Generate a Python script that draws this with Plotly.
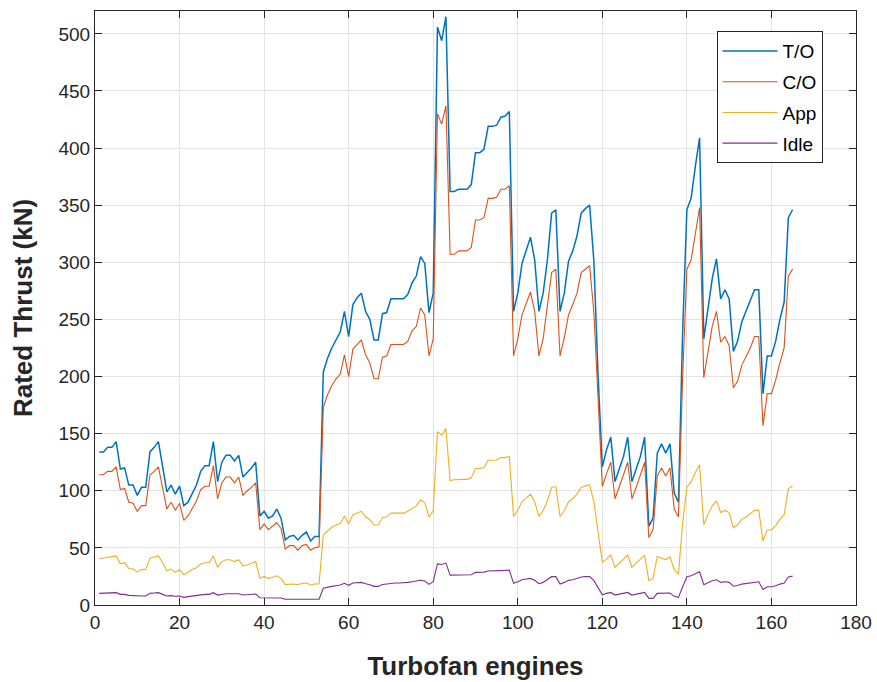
import plotly.graph_objects as go

engines = list(range(1, 166))

takeoff = [134,134,138,138,143,119,120,105,105,96,103,103,
           134,138,143,119,99,105,97,104,87,90,98,105,117,122,122,
           143,108,125,131,131,126,131,112,116,120,125,
           78,82,76,78,84,76,57,60,61,57,61,64,56,60,60,
           204,216,225,232,239,257,235,263,269,273,257,250,232,232,255,256,268,268,268,268,272,282,288,305,299,256,273,
           506,494,515,362,362,364,364,364,368,396,396,399,419,419,420,427,428,432,
           257,273,299,311,322,302,257,273,302,343,346,257,273,301,310,323,343,347,350,301,200,
           121,136,147,108,119,130,147,108,119,130,147,69,76,133,141,133,141,98,90,
           240,
           346,356,384,409,233,260,286,303,268,
           276,268,222,231,248,257,267,276,276,185,218,218,231,250,265,339,346]

climbout = [114,114,117,117,121,101,102,90,89,82,87,87,
            114,117,121,101,84,90,83,89,74,78,85,91,101,104,104,
            122,93,107,112,112,107,112,96,100,103,107,
            66,71,66,69,72,67,49,52,52,48,52,53,48,50,51,
            173,184,192,198,202,219,200,224,228,232,219,212,198,198,217,218,228,228,228,228,231,240,244,260,254,218,233,
            430,421,437,307,307,310,310,310,313,337,337,339,356,356,357,364,364,367,
            218,233,254,265,274,257,218,233,262,291,294,218,234,254,263,273,291,294,297,256,186,
            104,115,125,93,103,114,125,93,103,114,125,59,66,113,120,113,120,84,77,
            200,
            294,302,326,348,199,221,244,257,230,
            235,227,190,196,210,218,225,235,235,157,185,185,197,212,225,288,294]

approach = [40.5,41,42,42,43,36,37,32,31.5,29,31,31,
            41,42,43,37,30,31.5,28.5,31,26.5,28.5,31,32.6,36,37,37,
            43,33,38,39.6,39.6,38,39.6,34,35,36.7,38,
            23.6,24.8,23.3,24,25.6,23.3,17.8,18.4,18.4,17.8,19,19.2,17.5,18.4,18.4,
            61.5,65,68,70,71.4,78,70.8,79,80.4,82,77,74.6,70,70,76.6,77,80.4,80.4,80.4,80.4,82,84.8,86.8,92,89.7,77,82.5,
            151.8,148.6,154.4,109,109.6,110,110,110,111.3,119.5,119.5,120.3,126.7,126.7,127,129,129,130,
            77.5,83,90.6,93.5,97,90.3,77.5,82.5,91.2,102.9,103.7,77.5,82.5,90.3,93.2,97,102.9,104.3,105.2,90.3,63.5,
            37.3,40.2,43.7,33,36.4,40.2,43.7,33,36.4,40.2,43.7,21.3,23.3,42.5,41,39.6,42.2,31,27,
            72,
            103.4,107.8,116,122.7,70.2,79.5,86.8,91.2,81,
            82.8,80.9,67.6,70.2,75,77,79.7,82.8,82.8,56.2,65.7,65.7,69.5,75,79,101.7,104.4]

idle = [10.2,10.2,10.5,10.5,10.8,9.3,9.3,8.4,8.2,7.6,7.9,7.9,
        10.2,10.5,10.8,9.3,7.9,8.2,7.6,7.9,6.7,7.3,7.9,8.4,9,9.3,9.3,
        10.8,8.7,9.6,9.9,9.9,9.6,9.9,8.7,9,9.3,9.6,
        6.4,6.4,6.1,6.4,6.7,6.1,5,5,5,4.7,5,5,4.7,5,5,
        14.6,15.7,16.3,16.9,17.5,19,17.2,19.2,19.8,19.8,18.6,17.8,16.3,16.3,18,18.4,19.2,19.2,19.2,19.2,19.8,20.4,20.7,21.6,21,18,20.4,
        36,35.5,36.7,26.2,26.2,26.2,26.2,26.2,26.5,28.6,28.6,28.8,29.7,29.7,30,30.3,30.3,30.6,
        19,20.4,22.1,22.7,23.3,21.6,18.6,19.8,22.1,24.8,24.8,18.4,19.8,21.6,22.1,23.3,24.5,24.8,24.8,21.3,15.4,
        9,10.2,11,8.7,9.6,10.2,11,8.7,9.6,10.2,11,5.8,5.8,10.2,10.5,10.2,10.5,7.6,6.7,
        16,
        24.8,25.6,27.7,29.1,17.8,19.8,21.3,22.1,19.8,
        20.3,19.8,16.4,17,18.3,18.8,19.6,20.3,20.3,13.5,16,16,16.8,18.3,19.3,24.5,25.3]

series = [
    ("T/O", takeoff, "#0072BD", 1.5),
    ("C/O", climbout, "#D95319", 1.1),
    ("App", approach, "#EDB120", 1.1),
    ("Idle", idle, "#7E2F8E", 1.1),
]

FONT = "Liberation Sans, Arial, Helvetica, sans-serif"

fig = go.Figure()
for name, vals, color, w in series:
    fig.add_trace(go.Scatter(x=engines, y=vals, mode="lines", name=name,
                             legendgroup=name,
                             line=dict(color=color, width=w)))

axis_common = dict(
    showgrid=True, gridcolor="#e3e3e3", gridwidth=1,
    showline=True, linecolor="#262626", linewidth=1, mirror="ticks",
    ticks="inside", ticklen=7, tickcolor="#262626", tickwidth=1,
    tickfont=dict(family=FONT, size=19, color="#262626"),
    zeroline=False, automargin=False,
)

fig.update_layout(
    width=877, height=682,
    margin=dict(l=95, r=21, t=11, b=77, autoexpand=False),
    paper_bgcolor="white", plot_bgcolor="white",
    font=dict(family=FONT, color="#262626"),
    xaxis=dict(range=[0, 180], dtick=20, tick0=0,
               title=dict(text="<b>Turbofan engines</b>", font=dict(family=FONT, size=26, color="#262626"), standoff=25),
               **axis_common),
    yaxis=dict(range=[0, 520], dtick=50, tick0=0,
               title=dict(text="<b>Rated Thrust (kN)</b>", font=dict(family=FONT, size=26, color="#262626"), standoff=18),
               **axis_common),
    legend=dict(x=0.956, y=0.966, xanchor="right", yanchor="top",
                bgcolor="white", bordercolor="#262626", borderwidth=1,
                font=dict(family=FONT, size=19, color="#000000"),
                tracegroupgap=3, itemwidth=55),
    showlegend=True,
)

fig.write_html("out.html",
               config={"displayModeBar": False},
               post_script="document.body.style.margin='0px';document.body.style.padding='0px';")
